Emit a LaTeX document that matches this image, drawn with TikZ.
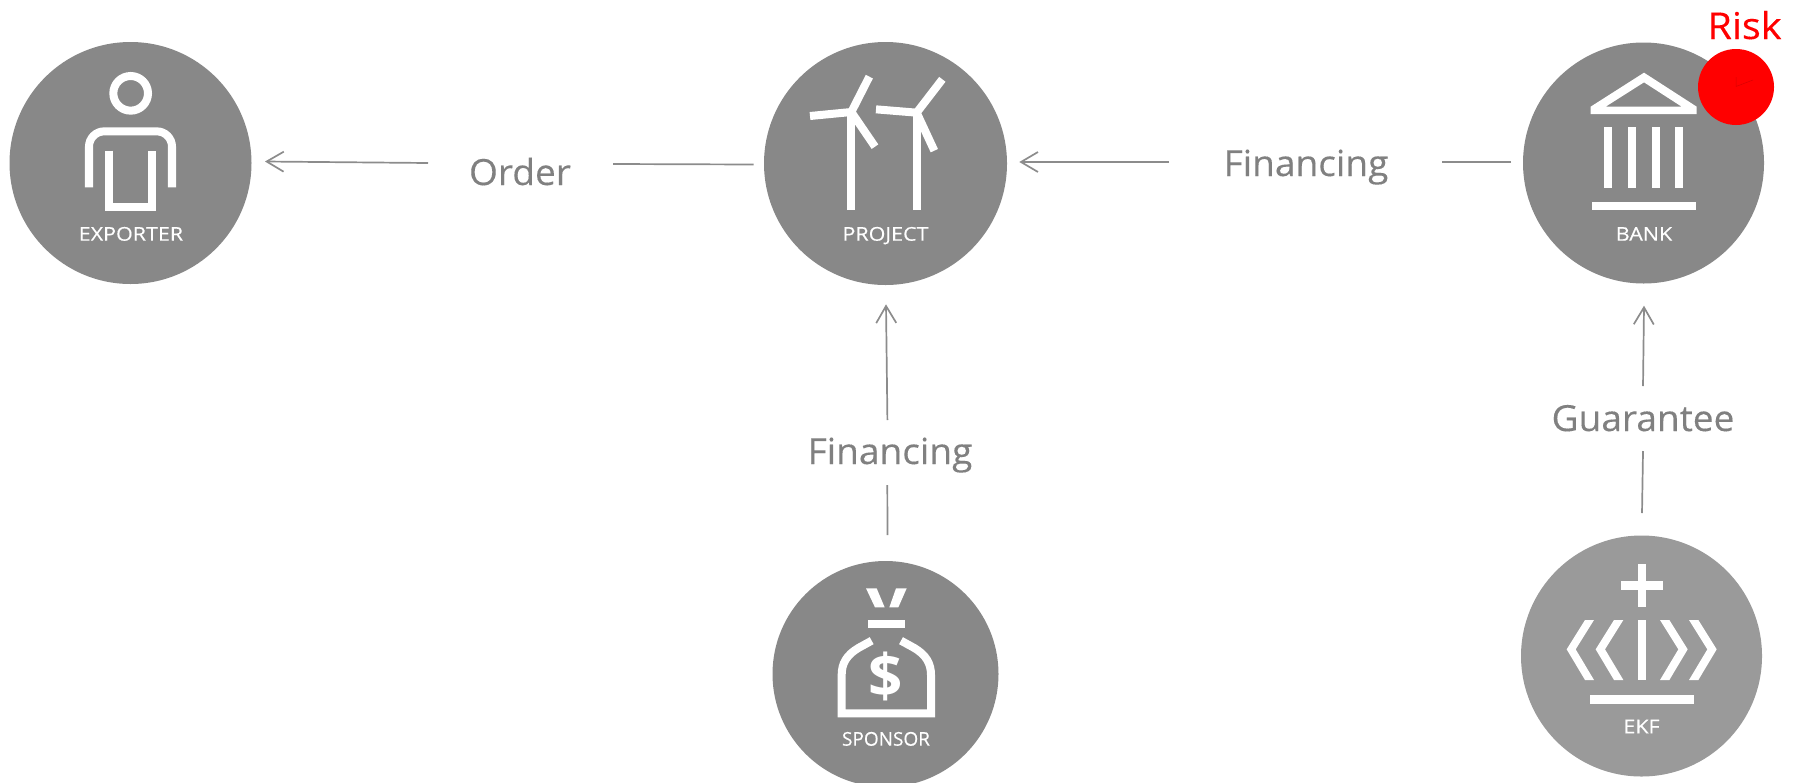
\documentclass[tikz,border=0pt]{standalone}
\usepackage{fontspec}
\setmainfont{Open Sans}
\newfontfamily\labfont[FakeStretch=1.03,FakeBold=0.25]{Open Sans}
\newfontfamily\riskfont[FakeStretch=1.07,FakeBold=0.25]{Open Sans}
\newfontfamily\capfont[FakeStretch=1.13,FakeBold=0.3]{Open Sans}
\newfontfamily\capnarrow[FakeBold=0.3]{Open Sans}
\usetikzlibrary{arrows.meta}
\definecolor{disc}{HTML}{888888}
\definecolor{disclight}{HTML}{9A9A9A}
\definecolor{linegrey}{HTML}{8C8C8C}
\definecolor{labelgrey}{HTML}{808080}
\definecolor{riskred}{HTML}{FF0000}
\tikzset{
  disk/.style={circle,fill=disc,draw=none,inner sep=0pt,minimum size=#1},
  caption/.style={text=white,font=\capfont\fontsize{19}{19}\selectfont,inner sep=0pt,anchor=base},
  lab/.style={text=labelgrey,font=\labfont\fontsize{36}{36}\selectfont,inner sep=0pt,anchor=base},
  arrowline/.style={draw=linegrey,line width=1.7pt,-{Straight Barb[length=17pt,width=20pt,line width=1.7pt]}},
  plainline/.style={draw=linegrey,line width=1.7pt},
  icon/.style={draw=white,line width=8pt,line join=miter},
  iconfill/.style={fill=white,draw=none},
  zoomed/.style={x=0.33333pt,y=-0.33333pt}
}
\begin{document}
\begin{tikzpicture}[x=1pt,y=-1pt]
\useasboundingbox (0,0) rectangle (1795,782);
% discs
\node[disk=242pt] (exporter) at (130.5,163) {};
\node[disk=243pt] (project) at (885.5,163.5) {};
\node[disk=241pt] (bank) at (1643.5,163) {};
\node[disk=226pt] (sponsor) at (885.5,674) {};
\node[disk=241pt,fill=disclight] (ekf) at (1641.5,656) {};
% exporter icon
\begin{scope}[shift={(0pt,-20pt)},zoomed]
\draw[icon] (392,220) circle (52);
\draw[icon] (267,502) -- (267,380) arc[start angle=180,end angle=270,x radius=46,y radius=46] -- (470,334) arc[start angle=270,end angle=360,x radius=46,y radius=46] -- (516,502);
\draw[icon] (328,392) -- (328,560) -- (457,560) -- (457,392);
\end{scope}
% project icon
\begin{scope}[shift={(780pt,-50pt)},zoomed]
\draw[icon,line cap=butt] (214,480) -- (214,190);
\draw[icon] (90,198) -- (214,186) -- (268,80);
\draw[icon] (214,186) -- (285,290);
\draw[icon] (410,480) -- (410,190);
\draw[icon] (288,178) -- (410,188) -- (487,88);
\draw[icon] (410,188) -- (463,302);
\end{scope}
% bank icon
\begin{scope}[shift={(1535pt,0pt)},zoomed]
\fill[iconfill,even odd rule] (327,218) -- (485,320) -- (485,342) -- (167,342) -- (167,320) -- cycle
  (327,247) -- (212,320) -- (440,320) -- cycle;
\foreach \c in {206,278,350,421} \fill[iconfill] (\c,381) rectangle (\c+24,565);
\fill[iconfill] (170,606) rectangle (482,631);
\end{scope}
% sponsor icon
\begin{scope}[shift={(790pt,-570pt)},zoomed]
\fill[iconfill] (228,55) -- (260,55) -- (284,112) -- (255,112) -- cycle;
\fill[iconfill] (350,55) -- (318,55) -- (298,112) -- (325,112) -- cycle;
\fill[iconfill] (234,150) rectangle (344,173);
\draw[icon] (245,212) -- (205,234) .. controls (170,255) and (155,280) .. (155,315) -- (155,430) -- (423,430) -- (423,315) .. controls (423,280) and (408,255) .. (373,234) -- (333,212);
\end{scope}
\node[text=white,font=\fontsize{60}{60}\selectfont\bfseries,inner sep=0pt] (dollar) at (886,676) {\$};
% ekf icon
\begin{scope}[shift={(1530pt,-540pt)},zoomed]
\fill[iconfill] (323,72) rectangle (347,200);
\fill[iconfill] (272,124) rectangle (398,150);
\fill[iconfill] (165,240) -- (192,240) -- (137,328) -- (192,420) -- (165,420) -- (110,328) -- cycle;
\fill[iconfill] (252,240) -- (280,240) -- (225,328) -- (280,420) -- (252,420) -- (197,328) -- cycle;
\fill[iconfill] (323,240) rectangle (347,420);
\fill[iconfill] (418,240) -- (390,240) -- (445,328) -- (390,420) -- (418,420) -- (473,328) -- cycle;
\fill[iconfill] (505,240) -- (477,240) -- (532,328) -- (477,420) -- (505,420) -- (560,328) -- cycle;
\fill[iconfill] (179,465) rectangle (491,491);
\end{scope}
% disc captions
\node[caption] (exporterlab) at (131,240.7) {EXPORTER};
\node[caption] (projectlab) at (885.5,240.7) {PROJECT};
\node[caption] (banklab) at (1644,240.7) {BANK};
\node[caption,font=\capnarrow\fontsize{19}{19}\selectfont] (sponsorlab) at (886,745.7) {SPONSOR};
\node[caption] (ekflab) at (1641.5,733.3) {EKF};
% labels
\node[lab] (order) at (520,185) {Order};
\node[lab] (fin1) at (1306,176) {Financing};
\node[lab] (fin2) at (890,464) {Financing};
\node[lab] (guar) at (1643,431) {Guarantee};
% risk marker
\node[circle,fill=riskred,draw=none,inner sep=0pt,minimum size=76pt] (risk) at (1736,87) {};
\draw[draw=red!85!black,line width=0.5pt] (1736,77) -- (1736,86.5) -- (1753,80);
\node[text=riskred,font=\riskfont\fontsize{37}{37}\selectfont,inner sep=0pt,anchor=base] (risklab) at (1744.5,39) {Risk};
% connectors
\coordinate (a1) at (428,163); \coordinate (a2) at (265,161.5);
\coordinate (b1) at (753.7,164.5); \coordinate (b2) at (613,164);
\coordinate (c1) at (1169,162); \coordinate (c2) at (1019.3,162);
\coordinate (d1) at (1511,161.7); \coordinate (d2) at (1442,161.7);
\coordinate (e1) at (887.4,420); \coordinate (e2) at (886,304.3);
\coordinate (f1) at (887.5,535); \coordinate (f2) at (887.3,485);
\coordinate (g1) at (1643,386); \coordinate (g2) at (1644,305.7);
\coordinate (h1) at (1642,513); \coordinate (h2) at (1643,451);
\draw[arrowline] (a1) -- (a2);
\draw[plainline] (b1) -- (b2);
\draw[arrowline] (c1) -- (c2);
\draw[plainline] (d1) -- (d2);
\draw[arrowline] (e1) -- (e2);
\draw[plainline] (f1) -- (f2);
\draw[arrowline] (g1) -- (g2);
\draw[plainline] (h1) -- (h2);
\end{tikzpicture}
\end{document}
